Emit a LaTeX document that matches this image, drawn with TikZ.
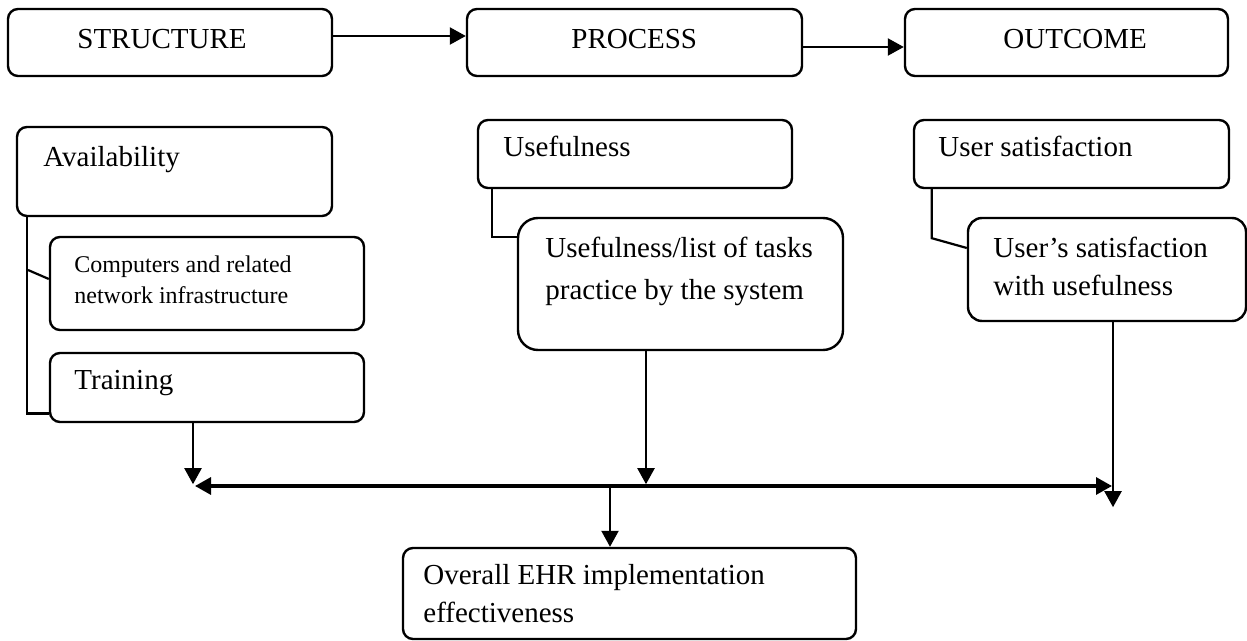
\documentclass[tikz,border=0pt]{standalone}
\usepackage{fontspec}
\setmainfont{Liberation Serif}
\usetikzlibrary{arrows.meta,fit}

\tikzset{
  box/.style={draw, line width=1.2pt, rounded corners=5pt, inner sep=0pt},
  txt/.style={inner sep=0pt, anchor=base west, font=\fontsize{14.5pt}{17pt}\selectfont},
  smalltxt/.style={txt, font=\fontsize{12pt}{14pt}\selectfont},
  link/.style={line width=1.1pt},
  arr/.style={line width=1.1pt, -{Triangle[length=8pt,width=8.5pt]}},
  bar/.style={line width=1.6pt, {Triangle[length=8pt,width=8.5pt]}-{Triangle[length=8pt,width=8.5pt]}},
}

\begin{document}
\begin{tikzpicture}[x=0.5pt, y=-0.5pt]
  \useasboundingbox (0,0) rectangle (1247,641);

  \node[box, fit={(8,9) (332,76)}] (struct) {};
  \node[txt] (structtxt) at (77,49) {STRUCTURE};
  \node[box, fit={(467,9) (802,76)}] (proc) {};
  \node[txt] (proctxt) at (571,49) {PROCESS};
  \node[box, fit={(905,9) (1228,76)}] (outc) {};
  \node[txt] (outctxt) at (1003,49) {OUTCOME};
  \draw[arr] ([yshift=3.25pt]struct.east) -- ([yshift=3.25pt]proc.west);
  \draw[arr] ([yshift=-2.25pt]proc.east) -- ([yshift=-2.25pt]outc.west);

  \node[box, fit={(17,127) (332,216)}] (avail) {};
  \node[txt] (availtxt) at (43,167) {Availability};
  \node[box, fit={(50,237) (364,330)}] (comp) {};
  \node[smalltxt] (comptxta) at (74,273) {Computers and related};
  \node[smalltxt] (comptxtb) at (74,304) {network infrastructure};
  \node[box, fit={(50,353) (364,422)}] (train) {};
  \node[txt] (traintxt) at (74,390) {Training};
  \coordinate (availjoin) at (28,270);
  \draw[link] ([xshift=5.5pt]avail.south west) |- ([yshift=-13pt]train.west);
  \draw[link] (availjoin) -- ([yshift=2.25pt]comp.west);

  \node[box, fit={(478,120) (792,188)}] (usef) {};
  \node[txt] (useftxt) at (503,157) {Usefulness};
  \node[box, rounded corners=10pt, fit={(518,218) (843,350)}] (list) {};
  \node[txt] (listtxta) at (545,258) {Usefulness/list of tasks};
  \node[txt] (listtxtb) at (545,300) {practice by the system};
  \draw[link] ([xshift=7.5pt]usef.south west) |- ([yshift=23.5pt]list.west);

  \node[box, fit={(914,120) (1229,188)}] (usat) {};
  \node[txt] (usattxt) at (938,157) {User satisfaction};
  \node[box, rounded corners=7pt, fit={(968,218) (1246,321)}] (usatw) {};
  \node[txt] (usatwtxta) at (993,258) {User’s satisfaction};
  \node[txt] (usatwtxtb) at (993,296) {with usefulness};
  \draw[link] ([xshift=9.5pt]usat.south west) -- ++(0,49) -- ([yshift=10.75pt]usatw.west);

  \coordinate (barL) at (195,486);
  \coordinate (barR) at (1112,486);
  \coordinate (barmid) at (610,486);
  \draw[arr] ([xshift=-7pt]train.south) -- ++(0,61);
  \draw[arr] ([xshift=-17.25pt]list.south) -- ++(0,133);
  \draw[arr] ([xshift=3pt]usatw.south) -- ++(0,185);
  \draw[bar] (barL) -- (barR);

  \node[box, fit={(403,548) (856,639)}] (overall) {};
  \node[txt] (overalltxta) at (423,584) {Overall EHR implementation};
  \node[txt] (overalltxtb) at (423,622) {effectiveness};
  \draw[arr] (barmid) -- (barmid |- overall.north);
\end{tikzpicture}
\end{document}
